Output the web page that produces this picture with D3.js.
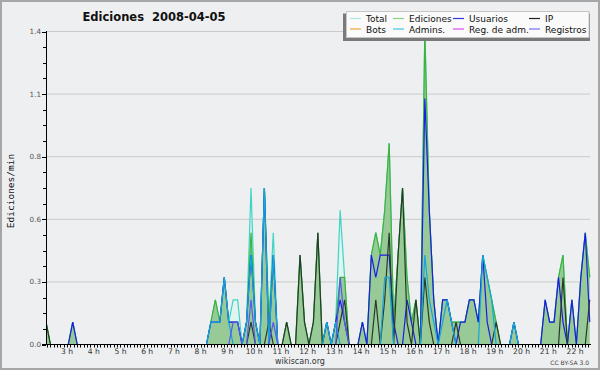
<!DOCTYPE html>
<html>
<head>
<meta charset="utf-8">
<title>Ediciones 2008-04-05</title>
<script src="https://cdn.jsdelivr.net/npm/d3@7"></script>
<style>
	body { margin: 0; background: #fff; }
	svg { display: block; font-family: "DejaVu Sans", sans-serif; }
</style>
</head>
<body>
<script>
	// one sample every 10 minutes, first one at 02:13 (minutes after midnight)
	var startMin = 133;
	var stepMin = 10;

	// edits per minute
	var total = [
		.1,0,0,0,0,0,.1,0,0,0,
		0,0,0,0,0,0,0,0,0,0,
		0,0,0,0,0,0,0,0,0,0,
		0,0,0,0,0,0,0,.1,.2,.1,
		.3,.1,.2,.2,0,.1,.7,.1,0,.7,
		.1,.5,0,0,.1,0,0,.4,.1,0,
		.1,.5,0,.1,0,.1,.6,.3,0,0,
		0,.1,0,.4,.5,.4,.6,.9,.1,.4,
		.7,.3,.1,.2,0,1.4,.6,.2,0,.2,
		.2,.1,.1,.1,.1,.2,.2,.1,.4,.3,
		.2,.1,0,0,0,.1,0,0,0,0,
		0,0,.2,.1,.1,.3,.4,0,.2,0,
		.3,.5,.3];
	var ediciones = [
		.1,0,0,0,0,0,.1,0,0,0,
		0,0,0,0,0,0,0,0,0,0,
		0,0,0,0,0,0,0,0,0,0,
		0,0,0,0,0,0,0,.1,.2,.1,
		.3,.1,.1,.1,0,.1,.5,.1,0,.7,
		.1,.4,0,0,.1,0,0,.4,.1,0,
		.1,.5,0,.1,0,.1,.3,.3,0,0,
		0,.1,0,.4,.5,.4,.6,.9,.1,.4,
		.7,.3,.1,.2,0,1.4,.6,.2,0,.2,
		.2,.1,.1,.1,.1,.2,.2,.1,.4,.3,
		.2,.1,0,0,0,.1,0,0,0,0,
		0,0,.2,.1,.1,.3,.4,0,.2,0,
		.3,.5,.3];
	var usuarios = [
		0,0,0,0,0,0,.1,0,0,0,
		0,0,0,0,0,0,0,0,0,0,
		0,0,0,0,0,0,0,0,0,0,
		0,0,0,0,0,0,0,.1,.1,.1,
		.3,.1,.1,.1,0,.1,.4,.1,0,.7,
		0,.4,0,0,0,0,0,0,0,0,
		0,0,0,.1,0,.1,.2,.1,0,0,
		0,.1,0,.4,.3,.4,.4,.4,.1,0,
		0,.2,.1,0,0,1.1,.6,.2,0,.2,
		.2,.1,0,.1,.1,.2,.2,.1,.4,.1,
		0,0,0,0,0,.1,0,0,0,0,
		0,0,.2,.1,.1,.3,.1,0,.2,0,
		.3,.5,.1];
	var ip = [
		.1,0,0,0,0,0,0,0,0,0,
		0,0,0,0,0,0,0,0,0,0,
		0,0,0,0,0,0,0,0,0,0,
		0,0,0,0,0,0,0,0,0,0,
		0,0,0,0,0,0,.1,0,0,0,
		.1,0,0,0,.1,0,0,.4,.1,0,
		.1,.5,0,0,0,0,.1,.2,0,0,
		0,0,0,0,.2,0,.2,.5,0,.4,
		.7,.1,0,.2,0,.3,.1,0,0,0,
		0,0,.1,0,0,0,0,0,0,0,
		0,.1,0,0,0,0,0,0,0,0,
		0,0,0,0,0,0,.3,0,0,0,
		0,0,.2];
	var bots = [
		0,0,0,0,0,0,0,0,0,0, 0,0,0,0,0,0,0,0,0,0, 0,0,0,0,0,0,0,0,0,0,
		0,0,0,0,0,0,0,0,0,0, 0,0,0,0,0,0,0,0,0,0, 0,0,0,0,0,0,0,0,0,0,
		0,0,0,0,0,0,0,0,0,0, 0,0,0,0,0,0,0,0,0,0, 0,0,0,0,0,0,0,0,0,0,
		0,0,0,0,0,0,0,0,0,0, 0,0,0,0,0,0,0,0,0,0, 0,0,0,0,0,0,0,0,0,0,
		0,0,0];
	var admins = [
		0,0,0,0,0,0,0,0,0,0,
		0,0,0,0,0,0,0,0,0,0,
		0,0,0,0,0,0,0,0,0,0,
		0,0,0,0,0,0,0,.1,.1,.1,
		.3,.1,0,0,0,.1,.4,.1,0,.7,
		0,.4,0,0,0,0,0,0,0,0,
		0,0,0,.1,0,.1,0,0,0,0,
		0,0,0,0,0,0,.3,.3,0,0,
		0,0,0,0,0,.4,.2,.1,0,.1,
		.2,.1,0,0,0,0,0,0,.4,.3,
		.2,0,0,0,0,.1,0,0,0,0,
		0,0,0,0,0,0,0,0,0,0,
		0,0,0];
	var regAdm = bots.slice();
	var registros = [
		0,0,0,0,0,0,0,0,0,0,
		0,0,0,0,0,0,0,0,0,0,
		0,0,0,0,0,0,0,0,0,0,
		0,0,0,0,0,0,0,0,0,0,
		0,0,.1,.1,0,0,.2,0,0,0,
		0,.1,0,0,0,0,0,0,0,0,
		0,0,0,0,0,0,.3,.1,0,0,
		0,0,0,0,0,0,0,0,0,0,
		0,0,0,0,0,0,0,0,0,0,
		0,0,0,0,0,0,0,0,0,0,
		0,0,0,0,0,0,0,0,0,0,
		0,0,0,0,0,0,0,0,0,0,
		0,0,0];

	var hours = [3,4,5,6,7,8,9,10,11,12,13,14,15,16,17,18,19,20,21,22];
	var yTicks = [0, 0.28, 0.56, 0.84, 1.12, 1.4];
	var yTickLabels = ["0.0","0.3","0.6","0.8","1.1","1.4"];

	var legendNames = ["Total","Ediciones","Usuarios","IP","Bots","Admins.","Reg. de adm.","Registros"];
	var legendColors = ["#a8e6e0","#88d488","#3434e4","#202020","#f0a23a","#44c6e4","#e048ee","#7272f2"];

	var times = total.map(function (d, i) { return startMin + i * stepMin; });

	var svg = d3.select("body").append("svg").attr("width", 600).attr("height", 370);

	// canvas and frame
	svg.append("rect").attr("width", 600).attr("height", 370).attr("fill", "#eeeff0");
	svg.append("rect").attr("x", 1).attr("y", 1).attr("width", 598).attr("height", 368)
		.attr("fill", "none").attr("stroke", "#a6a6a6").attr("stroke-width", 2);

	var x = d3.scaleLinear().domain([133, 1353.6]).range([46, 590]);
	var y = d3.scaleLinear().domain([0, 1.4]).range([344.5, 31.5]);

	// horizontal grid
	svg.append("g").selectAll("line").data(yTicks.slice(1)).enter().append("line")
		.attr("x1", 46).attr("x2", 590)
		.attr("y1", function (d) { return y(d); }).attr("y2", function (d) { return y(d); })
		.attr("stroke", "#cacaca").attr("stroke-width", 1);

	svg.append("clipPath").attr("id", "plot").append("rect")
		.attr("x", 46).attr("y", 20).attr("width", 545).attr("height", 326);
	var plot = svg.append("g").attr("clip-path", "url(#plot)");

	var area = d3.area()
		.x(function (d, i) { return x(times[i]); })
		.y0(y(0))
		.y1(function (d) { return y(d); });
	var line = d3.line()
		.x(function (d, i) { return x(times[i]); })
		.y(function (d) { return y(d); });

	plot.append("path").datum(total).attr("d", area).attr("fill", "#e0f4f0");
	plot.append("path").datum(total).attr("d", line).attr("fill", "none")
		.attr("stroke", "#3ed4c4").attr("stroke-width", 1.2);
	plot.append("path").datum(ediciones).attr("d", area).attr("fill", "#98ca98");
	plot.append("path").datum(ediciones).attr("d", line).attr("fill", "none")
		.attr("stroke", "#3cb43c").attr("stroke-width", 1.2);

	var lines = [
		{ values: usuarios, color: "#1c1ce8" },
		{ values: ip, color: "#283a28" },
		{ values: bots, color: "#f0a23a" },
		{ values: admins, color: "#14a6dc" },
		{ values: regAdm, color: "#e048ee" },
		{ values: registros, color: "#5858f0" }
	];
	plot.selectAll(".serie").data(lines).enter().append("path")
		.attr("class", "serie")
		.attr("d", function (d) { return line(d.values); })
		.attr("fill", "none")
		.attr("stroke", function (d) { return d.color; })
		.attr("stroke-width", 1.2);

	// y axis
	var yAxis = svg.append("g");
	yAxis.append("line").attr("x1", 46.5).attr("x2", 46.5).attr("y1", 31).attr("y2", 345)
		.attr("stroke", "#000");
	yAxis.selectAll(".minor").data(d3.range(0, 20)).enter().append("line")
		.attr("x1", 43).attr("x2", 46)
		.attr("y1", function (d) { return Math.round(y(d * 0.07)) + 0.5; })
		.attr("y2", function (d) { return Math.round(y(d * 0.07)) + 0.5; })
		.attr("stroke", "#000");
	yAxis.selectAll(".major").data(yTicks).enter().append("line")
		.attr("x1", 42).attr("x2", 46)
		.attr("y1", function (d) { return Math.round(y(d)) + 0.5; })
		.attr("y2", function (d) { return Math.round(y(d)) + 0.5; })
		.attr("stroke", "#000");
	yAxis.selectAll("text").data(yTicks).enter().append("text")
		.attr("x", 41).attr("y", function (d) { return y(d) + 2.5; })
		.attr("text-anchor", "end").attr("font-size", 7.2).attr("fill", "#555")
		.text(function (d, i) { return yTickLabels[i]; });

	// x axis
	var xAxis = svg.append("g");
	xAxis.append("line").attr("x1", 42).attr("x2", 591).attr("y1", 344.5).attr("y2", 344.5)
		.attr("stroke", "#000");
	var minorTicks = d3.range(18, 181).map(function (k) { return k * 7.5; })
		.filter(function (m) { return x(m) >= 46 && x(m) <= 590; });
	xAxis.selectAll(".tick").data(minorTicks).enter().append("line")
		.attr("x1", function (d) { return Math.round(x(d)) + 0.5; })
		.attr("x2", function (d) { return Math.round(x(d)) + 0.5; })
		.attr("y1", 344).attr("y2", 347.5)
		.attr("stroke", "#000");
	xAxis.selectAll("text").data(hours).enter().append("text")
		.attr("x", function (d) { return x(d * 60); }).attr("y", 353.5)
		.attr("text-anchor", "middle").attr("font-size", 7.6).attr("fill", "#333")
		.text(function (d) { return d + " h"; });

	// titles
	svg.append("text").attr("x", 154).attr("y", 20.5).attr("text-anchor", "middle")
		.attr("font-size", 11.5).attr("font-weight", "bold").attr("fill", "#111")
		.attr("xml:space", "preserve").style("white-space", "pre")
		.text("Ediciones  2008-04-05");
	svg.append("text").attr("transform", "translate(13.5,191) rotate(-90)")
		.attr("text-anchor", "middle").attr("font-family", "DejaVu Sans Mono")
		.attr("font-size", 9.5).attr("fill", "#111")
		.text("Ediciones/min");
	svg.append("text").attr("x", 300).attr("y", 363.5).attr("text-anchor", "middle")
		.attr("font-size", 8).attr("fill", "#333").text("wikiscan.org");
	svg.append("text").attr("x", 589).attr("y", 365).attr("text-anchor", "end")
		.attr("font-size", 6).attr("fill", "#444").text("CC BY-SA 3.0");

	// legend
	var lg = svg.append("g");
	lg.append("rect").attr("x", 343).attr("y", 13.5).attr("width", 247).attr("height", 27.5)
		.attr("fill", "#7a7a7a");
	lg.append("rect").attr("x", 346.5).attr("y", 11.5).attr("width", 242.5).attr("height", 26)
		.attr("fill", "#fafafa").attr("stroke", "#c6c6c6");
	var colX = [350, 393, 453, 529];
	var item = lg.selectAll(".item").data(legendNames).enter().append("g")
		.attr("transform", function (d, i) {
			return "translate(" + colX[i % 4] + "," + (i < 4 ? 18.5 : 29) + ")";
		});
	item.append("line").attr("x1", 0).attr("x2", 11).attr("y1", 0).attr("y2", 0)
		.attr("stroke", function (d, i) { return legendColors[i]; }).attr("stroke-width", 1.2);
	item.append("text").attr("x", 16).attr("y", 3.6).attr("font-size", 9).attr("fill", "#111")
		.text(function (d) { return d; });
</script>
</body>
</html>
